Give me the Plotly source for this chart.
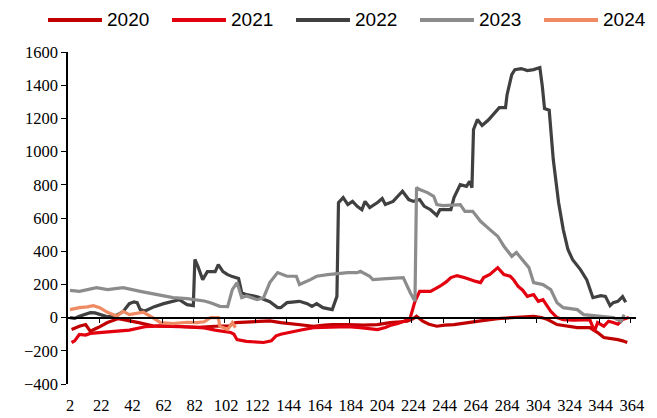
import plotly.graph_objects as go

# ── data (x = category position, 2..364 labels spaced every 20) ──
TICK_POS  = [2 + 20 * i for i in range(19)]
TICK_TEXT = ["2", "22", "42", "62", "82", "102", "122", "144", "164", "184",
             "204", "224", "244", "264", "284", "304", "324", "344", "364"]

X_2020 = [3, 8, 12, 15, 20, 26, 33, 37, 42, 46, 55, 63, 74, 84, 95, 104, 108, 115, 122, 130,
          137, 145, 152, 158, 165, 170, 180, 190, 199, 207, 214, 218, 222, 224, 228, 232, 237,
          242, 248, 256, 265, 276, 282, 289, 295, 299, 304, 308, 314, 320, 327, 335, 340, 344,
          348, 353, 356, 359]
Y_2020 = [-72, -52, -42, -82, -60, -30, -6, -12, -22, -30, -50, -52, -52, -58, -52, -50, -30, -28,
          -26, -20, -30, -40, -45, -52, -45, -42, -42, -45, -42, -30, -25, -22, -6, 8, -22, -40,
          -52, -45, -42, -30, -20, -6, -2, 2, 6, 8, 0, -12, -42, -50, -60, -60, -90, -120, -125,
          -133, -140, -150]

X_2021 = [3, 5, 8, 12, 15, 22, 32, 40, 50, 60, 70, 80, 88, 95, 101, 105, 107, 109, 115, 120, 126,
          131, 134, 137, 143, 150, 158, 165, 172, 180, 188, 194, 199, 204, 207, 212, 216, 220,
          223, 226, 230, 233, 239, 243, 246, 250, 255, 258, 262, 265, 267, 271, 276, 280, 284,
          286, 289, 292, 295, 299, 302, 305, 308, 310, 314, 318, 325, 335, 338, 340, 344, 347,
          350, 353, 356, 360]
Y_2021 = [-150, -140, -102, -105, -95, -90, -82, -75, -55, -50, -52, -58, -62, -75, -82, -90,
          -100, -133, -143, -145, -150, -140, -110, -100, -90, -75, -60, -58, -55, -54, -60, -68,
          -72, -60, -48, -35, -22, 0, 98, 158, 160, 158, 189, 215, 241, 253, 240, 229, 218, 211,
          241, 260, 301, 259, 249, 230, 189, 165, 128, 139, 98, 108, 70, 38, 0, -12, -15, -12,
          -82, -30, -52, -22, -30, -40, -12, 0]

X_2022 = [2, 5, 8, 12, 15, 18, 21, 26, 32, 36, 40, 43, 45, 47, 50, 56, 62, 68, 72, 77, 81, 82,
          84, 87, 90, 95, 97, 100, 103, 106, 110, 112, 115, 122, 130, 135, 137, 141, 149, 154,
          157, 160, 164, 170, 173, 174, 177, 180, 183, 186, 189, 191, 194, 199, 202, 204, 209,
          212, 215, 219, 222, 226, 229, 233, 237, 239, 246, 248, 252, 256, 258, 259.5, 260.5,
          263, 266, 270, 273, 277, 281, 282, 285, 287, 291, 295, 299, 303, 304.6, 306, 309,
          311.6, 315, 318, 321, 324, 329, 333, 337, 342, 345, 348, 350, 353, 356, 358]
Y_2022 = [0, -5, 8, 20, 30, 28, 18, 5, 15, 36, 84, 95, 90, 48, 40, 66, 84, 96, 108, 78, 72, 350,
          307, 229, 277, 277, 319, 277, 259, 247, 235, 150, 138, 126, 96, 60, 60, 90, 98, 84, 68,
          84, 60, 48, 128, 693, 723, 681, 700, 670, 650, 700, 663, 693, 717, 681, 700, 731, 761,
          711, 700, 711, 670, 650, 616, 650, 650, 723, 801, 791, 821, 783, 1133, 1193, 1157,
          1190, 1223, 1265, 1265, 1343, 1464, 1494, 1500, 1488, 1494, 1506, 1393, 1259, 1249,
          952, 693, 530, 410, 349, 289, 229, 120, 132, 128, 72, 90, 98, 126, 92]

X_2023 = [2, 8, 14, 19, 26, 36, 47, 58, 68, 77, 83, 88, 92, 98, 103, 106, 109, 112, 115, 122,
          126, 130, 135, 141, 147, 149, 156, 160, 167, 180, 186, 188, 194, 196, 205, 215.5, 220,
          223, 224, 226, 231, 235, 237, 241, 252, 255, 260, 265, 271, 276, 280, 285, 288, 292,
          296, 299, 305, 310, 314, 318, 327, 331, 340, 350, 355, 357]
Y_2023 = [164, 158, 170, 180, 169, 180, 158, 139, 120, 114, 108, 100, 90, 68, 66, 169, 211, 120,
          130, 108, 120, 211, 271, 249, 249, 199, 229, 249, 259, 271, 271, 279, 249, 229, 235,
          241, 150, 98, 783, 771, 753, 731, 681, 675, 681, 640, 640, 580, 530, 490, 430, 369,
          392, 349, 301, 211, 199, 169, 90, 60, 48, 18, 8, 0, -22, 18]

X_2024 = [2, 8, 13, 17, 21, 26, 32, 36, 40, 45, 49, 55, 60, 68, 77, 83, 88, 92, 97, 98, 103,
          106, 108]
Y_2024 = [48, 60, 65, 72, 60, 32, 8, 38, 18, 25, 32, 0, -30, -36, -28, -30, -25, 0, 0, -52, -72,
          -30, -60]

SERIES = [("2020", X_2020, Y_2020, "#C00000"),
          ("2021", X_2021, Y_2021, "#E3000F"),
          ("2022", X_2022, Y_2022, "#404040"),
          ("2023", X_2023, Y_2023, "#8C8C8C"),
          ("2024", X_2024, Y_2024, "#F08A63")]

W, H = 657, 418
ML, MR, MT, MB = 68, 21, 52, 34
PW, PH = W - ML - MR, H - MT - MB

def px_x(p):   # pixel -> paper x
    return (p - ML) / PW

def px_y(p):   # pixel (from top) -> paper y
    return (H - MB - p) / PH

fig = go.Figure()
for name, xs, ys, col in SERIES:
    fig.add_trace(go.Scatter(x=xs, y=ys, mode="lines", name=name, showlegend=False,
                             line=dict(color=col, width=3.2)))

# invisible trace so the zero-line tick axis gets drawn
fig.add_trace(go.Scatter(x=[2], y=[0], xaxis="x2", mode="markers",
                         marker=dict(opacity=0), showlegend=False, hoverinfo="skip"))

# legend row drawn by hand (plotly wraps it otherwise)
for i, (name, xs, ys, col) in enumerate(SERIES):
    x0 = 48 + 124 * i
    fig.add_shape(type="line", xref="paper", yref="paper",
                  x0=px_x(x0), x1=px_x(x0 + 54), y0=px_y(20), y1=px_y(20),
                  line=dict(color=col, width=4))
    fig.add_annotation(xref="paper", yref="paper", x=px_x(x0 + 57), y=px_y(20),
                       xanchor="left", yanchor="middle", showarrow=False, text=name,
                       font=dict(family="Liberation Sans", size=19, color="black"))

XR = [0.72, 364.6]
TICKF = dict(family="Liberation Serif, Times New Roman, serif", size=16.5, color="black")

fig.update_layout(
    width=W, height=H, autosize=False,
    margin=dict(l=ML, r=MR, t=MT, b=MB),
    paper_bgcolor="white", plot_bgcolor="white",
    font=dict(family="Liberation Serif, Times New Roman, serif", size=16.5, color="black"),
    showlegend=False,
    xaxis=dict(range=XR, tickvals=TICK_POS, ticktext=TICK_TEXT, showline=False,
               showgrid=False, zeroline=False, ticks="outside", ticklen=6,
               tickcolor="rgba(0,0,0,0)", tickfont=TICKF, automargin=False),
    xaxis2=dict(range=XR, overlaying="x", anchor="free", position=0.2, side="bottom",
                tickvals=[p - 1 for p in TICK_POS[1:]], showticklabels=False,
                ticks="outside", ticklen=5, tickwidth=1.3, tickcolor="black",
                showline=True, linecolor="black", linewidth=1.5,
                showgrid=False, zeroline=False, automargin=False),
    yaxis=dict(range=[-400, 1600], tickvals=list(range(-400, 1601, 200)), showgrid=False,
               zeroline=False, showline=True, linecolor="black", linewidth=1.5,
               ticks="outside", ticklen=5, tickwidth=1.3, tickcolor="black",
               tickfont=TICKF, automargin=False),
)

fig.write_html("out.html",
               config={"displayModeBar": False, "responsive": False},
               post_script="document.body.style.margin='0';document.body.style.overflow='hidden';")
